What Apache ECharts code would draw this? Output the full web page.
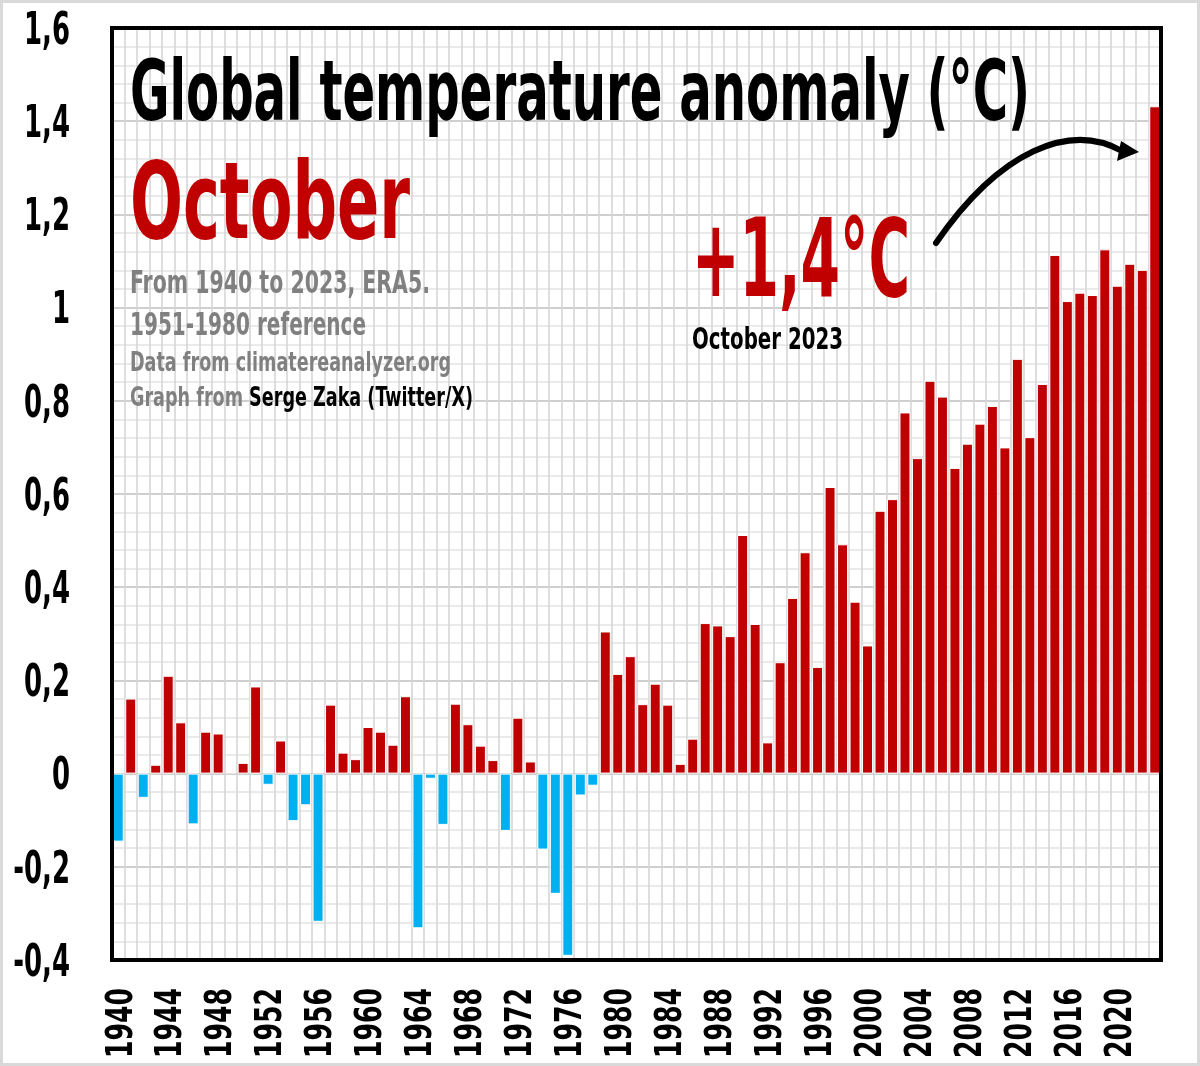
<!DOCTYPE html>
<html><head><meta charset="utf-8">
<script src="https://cdn.jsdelivr.net/npm/echarts@6/dist/echarts.min.js"></script>
<style>html,body{margin:0;padding:0;background:#fff}#c{width:1200px;height:1066px}</style>
</head><body><div id="c"></div>
<script>
// ---- data ----
const years = [];
for (let y = 1940; y <= 2023; y++) years.push(String(y));
const anomalies = [
  -0.146, 0.161, -0.052, 0.019, 0.210, 0.110, -0.109, 0.090, 0.086, 0.003,
   0.023, 0.187, -0.024, 0.071, -0.102, -0.068, -0.318, 0.148, 0.045, 0.031,
   0.100, 0.090, 0.062, 0.166, -0.332, -0.011, -0.110, 0.150, 0.106, 0.060,
   0.029, -0.123, 0.120, 0.026, -0.163, -0.258, -0.391, -0.047, -0.026, 0.305,
   0.214, 0.252, 0.149, 0.193, 0.148, 0.021, 0.075, 0.323, 0.318, 0.295,
   0.512, 0.321, 0.067, 0.239, 0.377, 0.475, 0.229, 0.615, 0.492, 0.369,
   0.275, 0.564, 0.589, 0.775, 0.677, 0.843, 0.809, 0.656, 0.708, 0.751,
   0.789, 0.700, 0.890, 0.722, 0.836, 1.113, 1.014, 1.032, 1.027, 1.125,
   1.047, 1.094, 1.081, 1.432
];
const yTickValues = [-0.4, -0.2, 0, 0.2, 0.4, 0.6, 0.8, 1, 1.2, 1.4, 1.6];
const yTickLabels = ['-0,4', '-0,2', '0', '0,2', '0,4', '0,6', '0,8', '1', '1,2', '1,4', '1,6'];
const xTickLabels = ['1940','1944','1948','1952','1956','1960','1964','1968','1972','1976',
                     '1980','1984','1988','1992','1996','2000','2004','2008','2012','2016','2020'];
const titleText = 'Global temperature anomaly (°C)';
const monthText = 'October';
const infoLines = ['From 1940 to 2023, ERA5.', '1951-1980 reference', 'Data from climatereanalyzer.org'];
const creditPrefix = 'Graph from ';
const creditName = 'Serge Zaka (Twitter/X)';
const highlightText = '+1,4°C';
const highlightSub = 'October 2023';

// ---- styling ----
const FONT = '"Liberation Sans Narrow","DejaVu Sans Condensed","Arial Narrow",sans-serif';
const RED = '#C00000', BLUE = '#00B0F0', GRAY = '#808080';
const GRID = { left: 112, right: 39, top: 28, bottom: 106 };
const mctx = document.createElement('canvas').getContext('2d');
function measure(text, size) { mctx.font = 'bold ' + size + 'px ' + FONT; return mctx.measureText(text).width; }
// cy = vertical centre of capitals
function txt(text, x, cy, size, color, target, scaleOverride) {
  const s = scaleOverride || target / measure(text, size);
  return { type: 'text', x: x, y: cy + 0.09 * size, scaleX: s, z: 50,
    style: { text: text, x: 0, y: 0, font: 'bold ' + size + 'px ' + FONT, fill: color, align: 'left', verticalAlign: 'middle' } };
}

const chart = echarts.init(document.getElementById('c'), null, { renderer: 'canvas' });

chart.setOption({
  animation: false,
  backgroundColor: '#fff',
  grid: Object.assign({ show: false, containLabel: false, outerBoundsMode: 'none' }, GRID),
  xAxis: {
    type: 'category', data: years,
    axisLine: { show: false }, axisTick: { show: false }, axisLabel: { show: false },
    splitLine: { show: true, interval: 0, lineStyle: { color: '#d6d6d6', width: 1.6 } }
  },
  yAxis: {
    type: 'value', min: -0.4, max: 1.6, interval: 0.2,
    axisLine: { show: false }, axisTick: { show: false }, axisLabel: { show: false },
    splitLine: { lineStyle: { color: '#cfcfcf', width: 2 } },
    minorTick: { show: false, splitNumber: 5 },
    minorSplitLine: { show: true, lineStyle: { color: '#e4e4e4', width: 1.5 } }
  },
  series: [{
    type: 'bar', data: anomalies, barWidth: '88%',
    itemStyle: { color: p => p.value >= 0 ? RED : BLUE, borderColor: '#fff', borderWidth: 1 }
  }]
});

// ---- tick labels, placed through the chart's own scales ----
const labelGraphics = [];
const ySize = 45;
const yScale = 46 / measure('0,4', ySize);
yTickValues.forEach((v, i) => {
  const py = chart.convertToPixel({ gridIndex: 0 }, [0, v])[1];
  labelGraphics.push({ type: 'text', x: GRID.left - 42, y: py + 0.09 * ySize, scaleX: yScale, z: 50,
    style: { text: yTickLabels[i], x: 0, y: 0, font: 'bold ' + ySize + 'px ' + FONT, fill: '#000', align: 'right', verticalAlign: 'middle' } });
});
const xSize = 38;
const xScale = 70 / measure('2000', xSize);
const axisY = 1066 - GRID.bottom;
xTickLabels.forEach(lab => {
  const px = chart.convertToPixel({ gridIndex: 0 }, [lab, 0])[0];
  labelGraphics.push({ type: 'text', x: px + 0.09 * xSize, y: axisY + 28, rotation: Math.PI / 2, scaleX: xScale, z: 50,
    style: { text: lab, x: 0, y: 0, font: 'bold ' + xSize + 'px ' + FONT, fill: '#000', align: 'right', verticalAlign: 'middle' } });
});

const creditSize = 27;
const creditScale = (473 - 130) / measure(creditPrefix + creditName, creditSize);
const prefixW = measure(creditPrefix, creditSize) * creditScale;

const graphics = [
  { type: 'rect', z: 100, shape: { x: 1.5, y: 1.5, width: 1197, height: 1063 }, style: { fill: null, stroke: '#d9d9d9', lineWidth: 3 } },
  { type: 'rect', z: 100, shape: { x: GRID.left, y: GRID.top, width: 1200 - GRID.left - GRID.right, height: 1066 - GRID.top - GRID.bottom },
    style: { fill: null, stroke: '#000', lineWidth: 4 } },
  txt(titleText, 130, 91, 84, '#000', 900),
  txt(monthText, 130, 201, 107, RED, 280),
  txt(infoLines[0], 130, 282, 32, GRAY, 300),
  txt(infoLines[1], 130, 324, 32, GRAY, 236),
  txt(infoLines[2], 130, 362, 27, GRAY, 321),
  txt(creditPrefix, 130, 397, creditSize, GRAY, 0, creditScale),
  txt(creditName, 130 + prefixW, 397, creditSize, '#000', 0, creditScale),
  txt(highlightText, 692, 258, 108, RED, 218),
  txt(highlightSub, 692, 339, 30, '#000', 151),
  { type: 'bezierCurve', z: 60, shape: { x1: 936, y1: 243, cpx1: 1000, cpy1: 150, cpx2: 1070, cpy2: 122, x2: 1122, y2: 151 },
    style: { stroke: '#000', lineWidth: 6, fill: null, lineCap: 'round' } },
  { type: 'polygon', z: 60, shape: { points: [[1139, 152], [1121, 141], [1117, 161]] }, style: { fill: '#000' } }
].concat(labelGraphics);

chart.setOption({ graphic: graphics });
</script></body></html>
